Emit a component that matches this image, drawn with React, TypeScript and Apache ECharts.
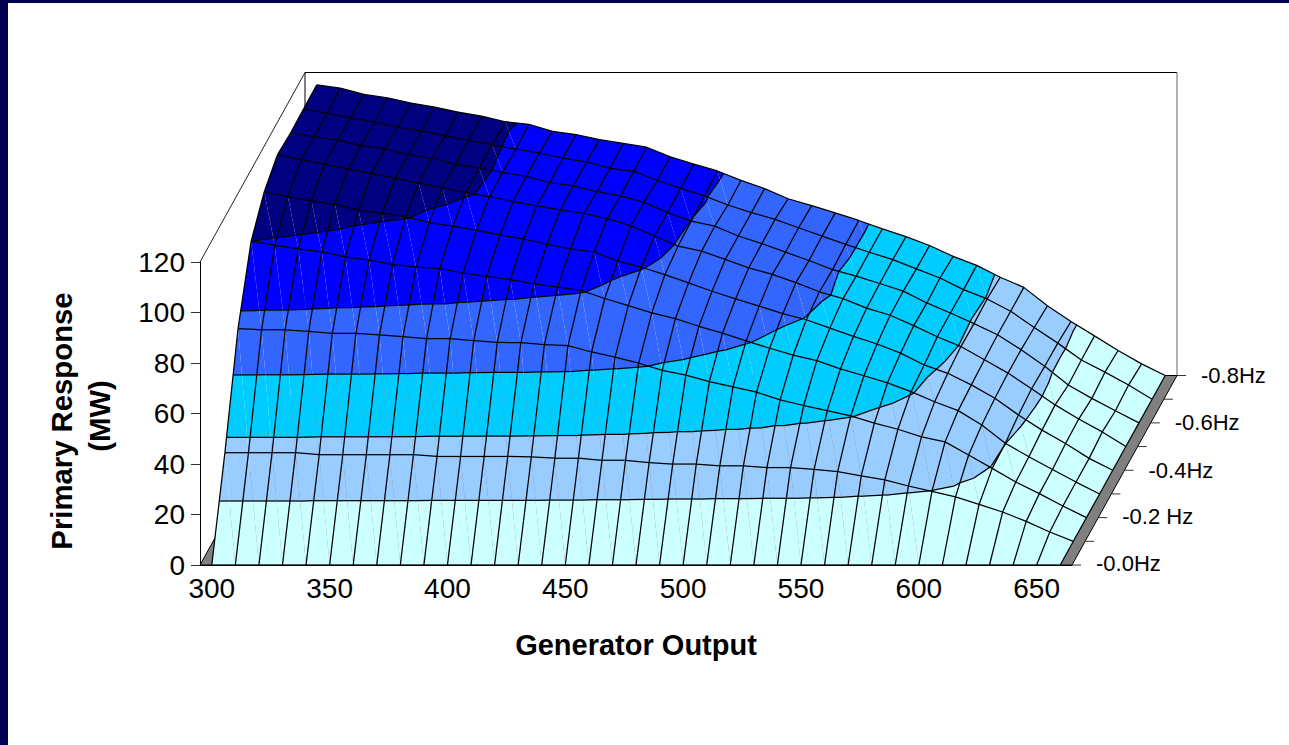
import React, { useEffect, useRef } from "react";
import * as echarts from "echarts";

const generatorOutput = [300,310,320,330,340,350,360,370,380,390,400,410,420,430,440,450,460,470,480,490,500,510,520,530,540,550,560,570,580,590,600,610,620,630,640,650,660].map(String);

const row0 = [0,0,0,0,0,0,0,0,0,0,0,0,0,0,0,0,0,0,0,0,0,0,0,0,0,0,0,0,0,0,0,0,0,0,0,0,0];
const row1 = [35.1,35.1,35.1,35.1,34.3,34.3,34.3,34.3,34.3,33.6,33.6,33.6,33.6,33.4,32.9,32.9,32.1,32.1,31.2,30.6,30.6,29.9,29.9,29.2,29.2,28.5,27.6,25.9,24.3,21.9,19.8,17.6,14.6,11.6,7.9,3.7,0];
const row2 = [74.9,74.4,74.4,73.8,73,73,72.4,71.7,70.9,70.9,70.1,69.4,69.3,68.5,68.1,65.6,63.6,61.2,58.3,56.4,53.9,51.8,49.7,46.6,44.4,42.4,40.3,37.4,35,32,30,24.8,19.5,14.1,9.5,4.6,0];
const row3 = [100.1,98.4,97.1,95.9,93.9,92.6,90.8,89.8,89.2,87.5,86.2,84.9,83.2,81.9,80.6,77.4,74.6,71.7,69.4,66.4,63.7,60.6,57.7,55,52.8,49.5,46.8,44,40.5,36.5,33,27.3,20.1,14.7,9.7,4.7,0];
const row4 = [110.3,108.3,106.7,105.4,103,101.7,100.5,98.1,96.7,95,93.2,91.5,89.5,87.7,86.4,82.8,80.4,77.5,74.2,70.9,67.9,65,62,59.6,56.3,53,50,46.4,41.7,38.4,33.8,28.5,21.9,15.9,10.6,4.7,0];
const row5 = [115.5,113.6,111.9,109.9,108.2,106.2,104.3,102.5,100.6,99,97,95.3,93.7,92.3,90.3,87.4,83.4,79.4,77.4,74.1,70.8,68.2,64.9,61.3,58.6,54.8,52,47.9,43.5,39.6,34.4,29.1,22.9,16.5,10.9,5.8,0];
const row6 = [114.8,113.4,112,109.8,108.5,106.1,104.8,102.5,100.9,99.2,97.6,95.2,93.9,91.6,89.9,87.3,83.3,79.9,77.9,74,71,67.6,64.3,60.7,58.1,55.2,52.2,47.5,43.5,39.3,34.9,29,22.4,15,9.7,4.8,0];
const row7 = [115,113.2,111.4,109.7,107.7,106.3,104.3,102.6,100.7,99,97.5,95.5,94,91.4,90.2,86.7,83.5,80.5,76.9,73.9,71.2,67.9,64.6,61.3,58.2,55.3,51.6,48,43.4,39.7,34.8,28.4,22.2,15.5,10.7,5.6,0];
const row8 = [115.1,113.8,111.3,110,107.9,106.3,104.3,102.7,100.5,99.5,96.7,95.4,93.4,91.9,90.4,86.6,83.7,81,77.3,74,70,67.3,64.4,61.4,58.1,55,51.5,47.2,43.6,38.9,34.9,27.6,21.4,15.7,9.9,4.6,0];
const surface = [row0, row1, row2, row3, row4, row5, row6, row7, row8];

const depthTicks = ["-0.0Hz", "", "-0.2 Hz", "", "-0.4Hz", "", "-0.6Hz", "", "-0.8Hz"];
const bandLevels = [20, 40, 60, 80, 100];
const bandColors = ["#CCFFFF", "#99CCFF", "#00CCFF", "#3366FF", "#0000FF", "#000080"];

const FONT = '"Liberation Sans", Arial, sans-serif';
const DEPTH_X = 105;
const DEPTH_Y = -189.5;
const LINE_W = 1.25;

type V = { x: number; y: number; v: number };

function clipAbove(poly: V[], level: number, keepAbove: boolean): V[] {
  const out: V[] = [];
  for (let i = 0; i < poly.length; i++) {
    const a = poly[i];
    const b = poly[(i + 1) % poly.length];
    const ain = keepAbove ? a.v >= level : a.v <= level;
    const bin = keepAbove ? b.v >= level : b.v <= level;
    if (ain) out.push(a);
    if (ain !== bin) {
      const t = (level - a.v) / (b.v - a.v);
      out.push({ x: a.x + (b.x - a.x) * t, y: a.y + (b.y - a.y) * t, v: level });
    }
  }
  return out;
}

function bandOf(v: number) {
  let i = 0;
  while (i < bandLevels.length && v >= bandLevels[i]) i++;
  return i;
}

function App() {
  const ref = useRef<HTMLDivElement>(null);
  useEffect(() => {
    document.body.style.margin = "0";
    document.body.style.background = "#fff";
    const chart = echarts.init(ref.current!, undefined, { renderer: "svg" });

    const project = (api: any, c: number, r: number): V => {
      const v = surface[r][c];
      const p = api.coord([c, v]);
      return { x: p[0] + (DEPTH_X * r) / 8, y: p[1] + (DEPTH_Y * r) / 8, v };
    };

    const cells: number[][] = [];
    for (let r = surface.length - 2; r >= 0; r--) {
      for (let c = 0; c < generatorOutput.length - 1; c++) cells.push([c, r]);
    }

    const poly = (pts: V[], fill: string) => ({
      type: "polygon",
      shape: { points: pts.map((p) => [p.x, p.y]) },
      style: { fill },
      silent: true,
    });
    const seg = (a: { x: number; y: number }, b: { x: number; y: number }, stroke = "#000", lineWidth = LINE_W) => ({
      type: "line",
      shape: { x1: a.x, y1: a.y, x2: b.x, y2: b.y },
      style: { stroke, lineWidth, fill: null },
      silent: true,
    });

    const renderFill = (params: any, api: any) => {
      const [c, r] = cells[params.dataIndex];
      const a = project(api, c, r);
      const b = project(api, c + 1, r);
      const d = project(api, c, r + 1);
      const e = project(api, c + 1, r + 1);
      const vs = [a.v, b.v, d.v, e.v];
      const lo = Math.min(...vs);
      const hi = Math.max(...vs);
      const children: any[] = [];
      if (bandOf(lo) === bandOf(hi)) {
        children.push(poly([a, b, e, d], bandColors[bandOf(lo)]));
      } else {
        for (const tri of [[a, b, d], [b, e, d]]) {
          for (let i = 0; i < bandColors.length; i++) {
            let p: V[] = tri;
            if (i > 0) p = clipAbove(p, bandLevels[i - 1], true);
            if (i < bandLevels.length && p.length) p = clipAbove(p, bandLevels[i], false);
            if (p.length >= 3) children.push(poly(p, bandColors[i]));
          }
        }
      }
      return { type: "group", children };
    };

    const renderLines = (params: any, api: any) => {
      const [c, r] = cells[params.dataIndex];
      const a = project(api, c, r);
      const b = project(api, c + 1, r);
      const d = project(api, c, r + 1);
      const e = project(api, c + 1, r + 1);
      const children: any[] = [seg(a, b), seg(a, d)];
      if (r === surface.length - 2) children.push(seg(d, e));
      if (c === generatorOutput.length - 2) children.push(seg(b, e));
      for (const tri of [[a, b, d], [b, e, d]]) {
        for (const L of bandLevels) {
          const hits: { x: number; y: number }[] = [];
          for (let i = 0; i < 3; i++) {
            const p = tri[i];
            const q = tri[(i + 1) % 3];
            if (p.v < L !== q.v < L) {
              const t = (L - p.v) / (q.v - p.v);
              hits.push({ x: p.x + (q.x - p.x) * t, y: p.y + (q.y - p.y) * t });
            }
          }
          if (hits.length === 2) children.push(seg(hits[0], hits[1]));
        }
      }
      return { type: "group", children };
    };

    const corners = (api: any) => {
      const n = generatorOutput.length;
      const fl = api.coord([0, 0]);
      const fr = api.coord([n - 1, 0]);
      const top = api.coord([0, 120]);
      const half = (fr[0] - fl[0]) / (n - 1) / 2;
      return { x0: fl[0] - half, x1: fr[0] + half, y0: fl[1], yTop: top[1] };
    };

    const renderFrame = (_p: any, api: any) => {
      const { x0, x1, y0, yTop } = corners(api);
      const bl = { x: x0 + DEPTH_X, y: y0 + DEPTH_Y };
      const br = { x: x1 + DEPTH_X, y: y0 + DEPTH_Y };
      const tl = { x: x0 + DEPTH_X, y: yTop + DEPTH_Y };
      const tr = { x: x1 + DEPTH_X, y: yTop + DEPTH_Y };
      return {
        type: "group",
        children: [
          seg({ x: x0, y: yTop }, tl, "#222", 1),
          seg(tl, tr, "#000", 1),
          seg(tl, bl, "#000", 1),
          seg(tr, br, "#666", 1),
          {
            type: "polygon",
            shape: { points: [[x0, y0], [x1, y0], [br.x, br.y], [bl.x, bl.y]] },
            style: { fill: "#808080", stroke: "#000", lineWidth: 1 },
            silent: true,
          },
        ],
      };
    };

    const renderDepthAxis = (_p: any, api: any) => {
      const { x1, y0 } = corners(api);
      const children: any[] = [];
      depthTicks.forEach((label, r) => {
        const x = x1 + (DEPTH_X * r) / 8;
        const y = y0 + (DEPTH_Y * r) / 8;
        children.push(seg({ x, y }, { x: x + 9, y }, "#333", 1));
        if (label) {
          children.push({
            type: "text",
            x: x + 24,
            y: y - (r === 0 ? 2 : r === 2 ? 1 : 0),
            silent: true,
            style: {
              text: label,
              fontFamily: FONT,
              fontSize: 22,
              fill: "#000",
              textAlign: "left",
              textVerticalAlign: "middle",
            },
          });
        }
      });
      return { type: "group", children };
    };

    const yTitle = (text: string, x: number, y: number) => ({
      type: "text",
      x,
      y,
      rotation: Math.PI / 2,
      silent: true,
      style: {
        text,
        fontFamily: FONT,
        fontSize: 29.3,
        fontWeight: "bold",
        fill: "#000",
        textAlign: "center",
        textVerticalAlign: "middle",
      },
    });

    const common = { type: "custom", coordinateSystem: "cartesian2d", silent: true, clip: false };
    chart.setOption({
      animation: false,
      backgroundColor: "#fff",
      grid: { left: 200, width: 872, top: 262, height: 303, containLabel: false },
      graphic: [yTitle("Primary Response", 61, 421), yTitle("(MW)", 99, 416)],
      xAxis: {
        type: "category",
        data: generatorOutput,
        boundaryGap: true,
        name: "Generator Output",
        nameLocation: "middle",
        nameGap: 65,
        nameTextStyle: { fontFamily: FONT, fontSize: 29, fontWeight: "bold", color: "#000" },
        axisLine: { show: true, lineStyle: { color: "#000", width: 1 } },
        axisTick: { show: false },
        axisLabel: { interval: 4, margin: 9, fontFamily: FONT, fontSize: 28, color: "#000" },
        splitLine: { show: false },
      },
      yAxis: {
        type: "value",
        min: 0,
        max: 120,
        interval: 20,
        axisLine: { show: true, lineStyle: { color: "#000", width: 1 } },
        axisTick: { show: true, length: 9, lineStyle: { color: "#333", width: 1 } },
        axisLabel: { margin: 15, fontFamily: FONT, fontSize: 28, color: "#000" },
        splitLine: { show: false },
      },
      series: [
        { ...common, name: "frame", data: [[0, 0]], renderItem: renderFrame, z: 2 },
        { ...common, name: "surface", data: cells, renderItem: renderFill, z: 3 },
        { ...common, name: "grid lines", data: cells, renderItem: renderLines, z: 4 },
        { ...common, name: "depth axis", data: [[0, 0]], renderItem: renderDepthAxis, z: 5 },
      ],
    });
    return () => chart.dispose();
  }, []);

  return (
    <div style={{ position: "relative", width: 1289, height: 745, overflow: "hidden", background: "#fff" }}>
      <div ref={ref} style={{ position: "absolute", left: 0, top: 0, width: 1289, height: 745 }} />
      <div style={{ position: "absolute", left: 0, top: 0, width: 8, height: 745, background: "#000050" }} />
      <div style={{ position: "absolute", left: 0, top: 0, width: 1289, height: 3, background: "#000050" }} />
    </div>
  );
}

export default App;
